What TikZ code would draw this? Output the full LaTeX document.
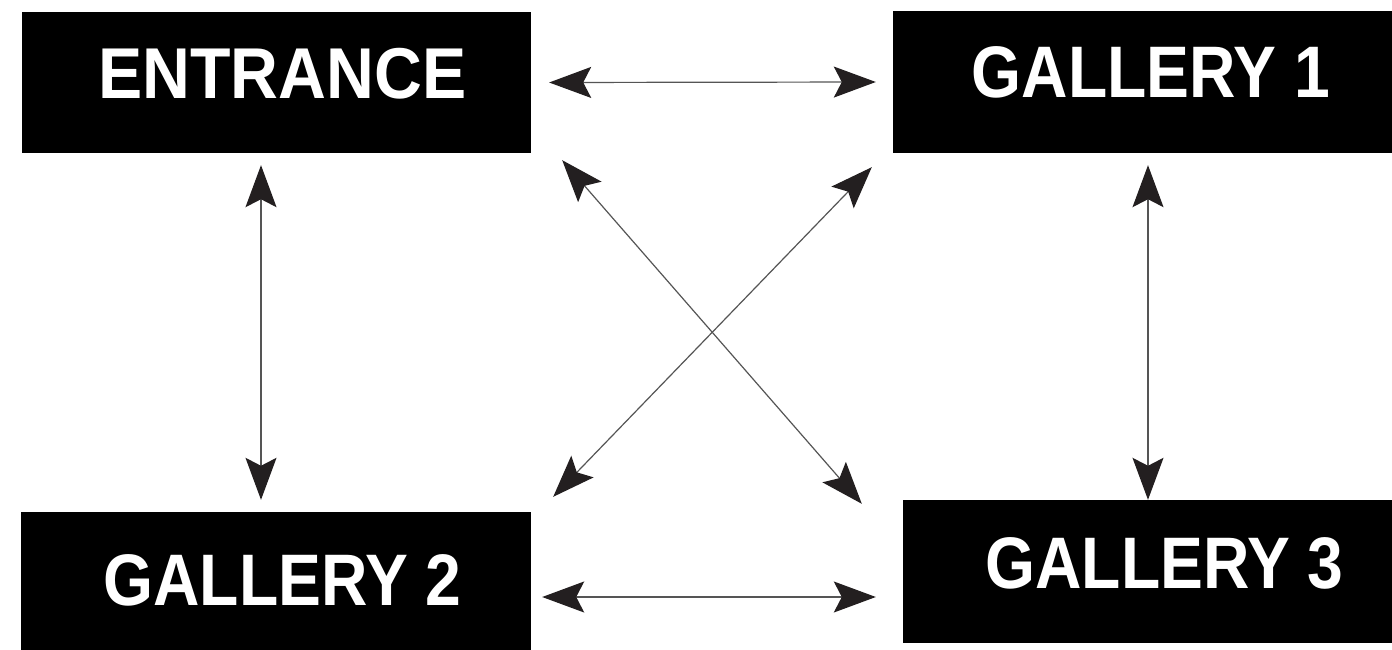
\documentclass[tikz,border=0pt]{standalone}
\usepackage{fontspec}
\usetikzlibrary{arrows.meta}
\newfontfamily\boxfont{Liberation Sans Bold}[FakeStretch=0.88]
\newfontfamily\boxfontwide{Liberation Sans Bold}[FakeStretch=0.92]
\definecolor{linec}{HTML}{555555}
\definecolor{tipc}{HTML}{231F20}
\tikzset{
  roombox/.style={draw=none, fill=black, rectangle, inner sep=0pt},
  roomlabel/.style={text=white, inner sep=0pt, anchor=base, font=\boxfont\fontsize{73}{80}\selectfont},
  conn/.style={draw=linec, line width=1.2pt,
    {Stealth[length=42pt,width=31pt,inset=8pt,color=tipc]}-{Stealth[length=42pt,width=31pt,inset=8pt,color=tipc]}}
}
\begin{document}
\begin{tikzpicture}[x=1pt,y=-1pt]
\useasboundingbox[fill=white] (0,0) rectangle (1392,650);
\node[roombox, minimum width=509pt, minimum height=141pt] (ent) at (276.5,82.5) {};
\node[roombox, minimum width=499pt, minimum height=142pt] (g1) at (1142.5,82) {};
\node[roombox, minimum width=510pt, minimum height=138pt] (g2) at (276,581) {};
\node[roombox, minimum width=489pt, minimum height=143pt] (g3) at (1147.5,571.5) {};
\node[roomlabel, font=\boxfontwide\fontsize{72}{80}\selectfont] (entT) at (282.5,99) {ENTRANCE};
\node[roomlabel] (g1T) at (1151,98) {GALLERY 1};
\node[roomlabel] (g2T) at (282.5,605) {GALLERY 2};
\node[roomlabel] (g3T) at (1164.5,588) {GALLERY 3};
\draw[conn] ([xshift=18pt]ent.east) -- ([xshift=-17pt]g1.west);
\draw[conn] ([shift={(-15.5pt,-12pt)}]ent.south) -- ([shift={(-15pt,12pt)}]g2.north);
\draw[conn] ([shift={(5.5pt,-12pt)}]g1.south) -- ([shift={(0.5pt,0pt)}]g3.north);
\draw[conn] ([shift={(31pt,-7pt)}]ent.south east) -- ([shift={(-41pt,-4pt)}]g3.north west);
\draw[conn] ([shift={(-21pt,-14pt)}]g1.south west) -- ([shift={(22pt,15pt)}]g2.north east);
\draw[conn] ([shift={(11pt,-16pt)}]g2.east) -- ([shift={(-27pt,-25.5pt)}]g3.west);
\end{tikzpicture}
\end{document}
